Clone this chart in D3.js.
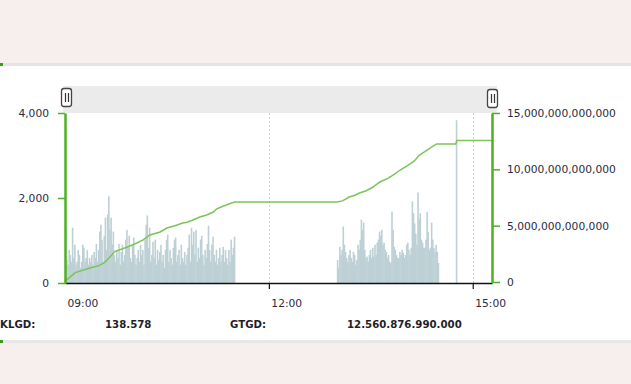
<!DOCTYPE html>
<html><head><meta charset="utf-8">
<script src="https://cdn.jsdelivr.net/npm/d3@7/dist/d3.min.js"></script>
<style>
html,body{margin:0;padding:0;background:#fff;}
svg{display:block;}
</style></head>
<body>
<svg id="chart" width="631" height="384"></svg>
<script>
// ---- DATA ----
const sessionDate = "2020-01-01";
const morningStart = "09:00";
const afternoonStart = "13:00";
const atcTime = "14:45";
// per-minute volume bars (left axis)
const morningVolume = [
 1300,540,430,780,660,500,1300,590,900,430,
 500,780,660,360,500,900,830,500,590,780,
 430,590,500,660,430,730,590,920,500,780,
 1210,1370,1020,500,1110,1540,780,1610,2040,1250,
 1540,900,1210,660,500,780,590,920,430,730,
 900,500,660,1020,1250,830,1110,590,500,900,
 1070,660,430,590,780,500,900,660,780,430,
 1020,1370,1590,830,1300,500,660,970,590,1020,
 430,780,540,730,900,500,660,360,780,1020,
 1140,500,780,590,430,830,1020,1070,500,660,
 780,430,900,590,500,730,430,660,830,1140,
 500,1300,900,1210,660,1250,500,830,590,1020,
 1110,660,430,780,590,920,1350,780,500,900,
 1090,660,500,780,430,590,830,500,660,850,
 500,780,590,430,780,500,1020,660,830,1090
];
const afternoonVolume = [
 540,360,850,660,780,1330,900,730,590,500,
 660,780,590,500,730,660,430,540,900,780,
 1020,1490,1250,1420,780,590,620,500,660,780,
 590,830,620,900,660,950,1020,1210,1110,1250,
 900,950,780,730,590,660,500,470,1680,1250,
 850,780,660,590,590,730,660,780,710,590,
 660,900,950,780,660,830,1920,1640,1400,1160,
 900,2130,1500,1640,1020,950,830,830,1020,1670,
 1200,780,830,1420,1020,830,730,900,730,470
];
const atcVolume = [3830];
// cumulative traded value (right axis), [time, value]
const valueTimes = ["09:00","09:01","09:09","09:22","09:30","09:35","09:39","09:44","09:55","10:02","10:09","10:15","10:24","10:30","10:37","10:44","10:48","10:54","10:59","11:05","11:11","11:14","11:20","11:27","11:30",
 "13:00","13:05","13:11","13:16","13:20","13:26","13:32","13:38","13:45","13:50","13:56","14:02","14:08","14:13","14:18","14:22","14:28","14:30","14:45","14:46","15:17"];
const valueSeries = [0,0.15e12,0.83e12,1.24e12,1.45e12,1.75e12,2.15e12,2.70e12,3.11e12,3.40e12,3.73e12,4.17e12,4.44e12,4.79e12,5.00e12,5.24e12,5.30e12,5.55e12,5.77e12,5.95e12,6.21e12,6.50e12,6.75e12,7.01e12,7.10e12,
 7.10e12,7.20e12,7.54e12,7.70e12,7.90e12,8.10e12,8.43e12,8.88e12,9.20e12,9.50e12,9.94e12,10.30e12,10.70e12,11.27e12,11.60e12,11.85e12,12.25e12,12.25e12,12.25e12,12.56e12,12.56e12];
const xTickLabels = ["09:00","12:00","15:00"];
const xDomain = ["09:00","15:17"];
const leftTicks = [0,2000,4000];
const rightTicks = [0,5e12,10e12,15e12];
const summaryLabels = ["KLGD:","GTGD:"];
const summaryValues = ["138.578","12.560.876.990.000"];

// ---- DRAW ----
const parse = d3.timeParse("%Y-%m-%d %H:%M");
const T = s => parse(sessionDate+" "+s);
const addMin = (d,m) => new Date(d.getTime()+m*60000);

const svg = d3.select("#chart");
const L = 65, R = 492, TOP = 113, BOT = 283;
const x = d3.scaleTime().domain(xDomain.map(T)).range([L,R]);
const yL = d3.scaleLinear().domain([0,4000]).range([BOT,TOP]);
const yR = d3.scaleLinear().domain([0,15e12]).range([BOT-1,TOP]);
const font = "'DejaVu Sans', Verdana, sans-serif";

// page background bands
svg.append("rect").attr("x",0).attr("y",0).attr("width",631).attr("height",63).attr("fill","#f7eeee");
svg.append("rect").attr("x",0).attr("y",63).attr("width",631).attr("height",3).attr("fill","#e4e4e4");
svg.append("rect").attr("x",0).attr("y",63).attr("width",3).attr("height",3).attr("fill","#3a9a1a");
svg.append("rect").attr("x",0).attr("y",340).attr("width",631).attr("height",3).attr("fill","#e6e6e6");
svg.append("rect").attr("x",0).attr("y",340).attr("width",3).attr("height",3).attr("fill","#3a9a1a");
svg.append("rect").attr("x",0).attr("y",343).attr("width",631).attr("height",41).attr("fill","#f7eeee");

// slider band
svg.append("rect").attr("x",63).attr("y",86).attr("width",434).attr("height",27).attr("fill","#ebebeb");

// grid lines
svg.append("g").selectAll("line").data(["12:00","15:00"]).join("line")
  .attr("x1",d=>Math.round(x(T(d)))+0.5).attr("x2",d=>Math.round(x(T(d)))+0.5)
  .attr("y1",TOP).attr("y2",BOT)
  .attr("stroke","#cfcfcf").attr("stroke-dasharray","2,2");

// bars
const barData = [];
morningVolume.forEach((v,i)=>barData.push({t:addMin(T(morningStart),i),v}));
afternoonVolume.forEach((v,i)=>barData.push({t:addMin(T(afternoonStart),i),v}));
atcVolume.forEach((v,i)=>barData.push({t:addMin(T(atcTime),i),v}));
svg.append("g").selectAll("rect").data(barData).join("rect")
  .attr("x",d=>x(d.t))
  .attr("width",1.6)
  .attr("y",d=>yL(d.v))
  .attr("height",d=>BOT-yL(d.v))
  .attr("fill","#bdd0d5");

// line
const lineData = valueTimes.map((t,i)=>({t:T(t),v:valueSeries[i]}));
svg.append("path").datum(lineData)
  .attr("d",d3.line().x(d=>x(d.t)).y(d=>yR(d.v)))
  .attr("fill","none").attr("stroke","#7cc35a").attr("stroke-width",1.5);

// x axis
const xAxis = svg.append("g").attr("transform",`translate(0,${BOT})`)
  .call(d3.axisBottom(x).tickValues(xTickLabels.map(T)).tickFormat(d3.timeFormat("%H:%M")).tickSize(6).tickSizeOuter(0));
xAxis.select(".domain").attr("stroke","#111").attr("stroke-width",1.5);
xAxis.selectAll(".tick line").attr("stroke","#111").attr("stroke-width",1.2);
xAxis.selectAll(".tick").filter((d,i)=>i===0).select("line").remove();
xAxis.selectAll(".tick text").attr("text-anchor","start").attr("x",2).attr("y",16)
  .attr("fill","#2b2b40").style("font-family",font).style("font-size","10.7px");

// left axis
const la = svg.append("g").attr("transform",`translate(${L},0)`)
  .call(d3.axisLeft(yL).tickValues(leftTicks).tickFormat(d3.format(",.0f")).tickSize(7).tickSizeOuter(0).tickPadding(9));
la.select(".domain").attr("stroke","#4db024").attr("stroke-width",2.5);
la.selectAll(".tick line").attr("stroke","#4db024").attr("stroke-width",1.5);
la.selectAll(".tick text").attr("fill","#2b2b40").style("font-family",font).style("font-size","10.7px");

// right axis
const ra = svg.append("g").attr("transform",`translate(${R},0)`)
  .call(d3.axisRight(yR).tickValues(rightTicks).tickFormat(d3.format(",.0f")).tickSize(8).tickSizeOuter(0).tickPadding(7));
ra.select(".domain").attr("stroke","#4db024").attr("stroke-width",2.5);
ra.selectAll(".tick line").attr("stroke","#4db024").attr("stroke-width",1.5);
ra.selectAll(".tick text").attr("fill","#2b2b40").style("font-family",font).style("font-size","10.7px");

// handles
[[61,88],[487,89]].forEach(([hx,hy])=>{
  const g = svg.append("g");
  g.append("rect").attr("x",hx+0.5).attr("y",hy+0.5).attr("width",10).attr("height",18).attr("rx",2.5)
    .attr("fill","#fff").attr("stroke","#444").attr("stroke-width",1.3);
  [4,7].forEach(dx=>g.append("line").attr("x1",hx+dx+0.5).attr("x2",hx+dx+0.5).attr("y1",hy+5).attr("y2",hy+14)
    .attr("stroke","#333").attr("stroke-width",1.2));
});

// summary text
const sText = [
  {t:summaryLabels[0],x:0},{t:summaryValues[0],x:105},
  {t:summaryLabels[1],x:230},{t:summaryValues[1],x:347}
];
svg.append("g").selectAll("text").data(sText).join("text")
  .attr("x",d=>d.x).attr("y",328).text(d=>d.t)
  .attr("fill","#1e1e2a").style("font-family",font).style("font-weight","bold").style("font-size","10.2px");
</script>
</body></html>
